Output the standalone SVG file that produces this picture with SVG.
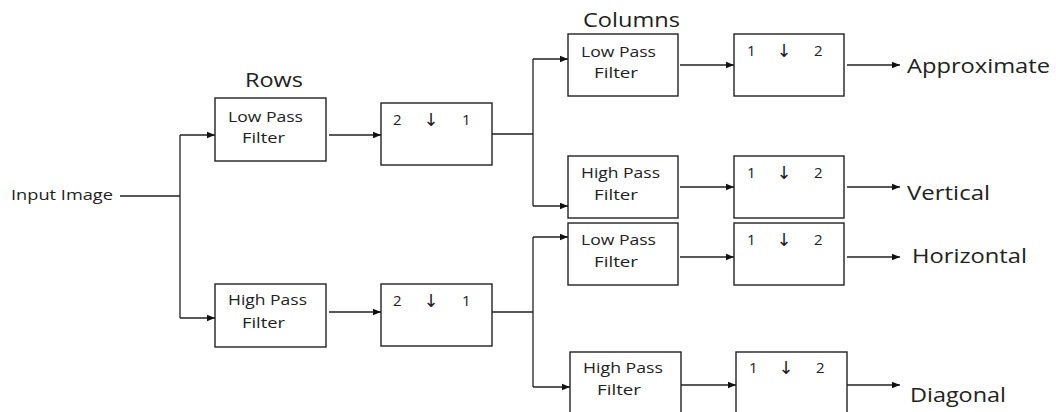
<svg xmlns="http://www.w3.org/2000/svg" width="1056" height="412" viewBox="0 0 1056 412">
<style>
.box{fill:#fff;stroke:#222;stroke-width:1.4}
.t{font-family:"Open Sans","Noto Sans",sans-serif;font-size:15px;fill:#222}
.big{font-family:"Open Sans","Noto Sans",sans-serif;font-size:20px;fill:#222}
.ar{font-family:"DejaVu Sans",sans-serif;font-size:18px;fill:#222}
.c{fill:none;stroke:#222;stroke-width:1.3}
</style>
<defs>
<marker id="ah" markerUnits="userSpaceOnUse" markerWidth="9" markerHeight="8" refX="8" refY="4" orient="auto">
<path d="M0,0.8 L8,4 L0,7.2 Z" fill="#111"/>
</marker>
</defs>
<rect width="1056" height="412" fill="#fff"/>
<text class="big" x="245" y="87" textLength="58" lengthAdjust="spacingAndGlyphs">Rows</text>
<text class="big" x="583" y="27" textLength="97" lengthAdjust="spacingAndGlyphs">Columns</text>
<g id="input"><text class="t" x="11" y="200" textLength="102" lengthAdjust="spacingAndGlyphs">Input Image</text></g>
<g id="rowLPF"><rect class="box" x="215" y="98" width="111" height="63"/>
<text class="t" x="228" y="122" textLength="75" lengthAdjust="spacingAndGlyphs">Low Pass</text>
<text class="t" x="242" y="143" textLength="43" lengthAdjust="spacingAndGlyphs">Filter</text></g>
<g id="rowHPF"><rect class="box" x="215" y="284" width="111" height="63"/>
<text class="t" x="228" y="305" textLength="79" lengthAdjust="spacingAndGlyphs">High Pass</text>
<text class="t" x="242" y="328" textLength="43" lengthAdjust="spacingAndGlyphs">Filter</text></g>
<g id="rowDS1"><rect class="box" x="381" y="103" width="111" height="62"/>
<text class="t" x="393" y="125">2</text><text class="ar" x="431" y="126" text-anchor="middle">↓︎</text><text class="t" x="462" y="125">1</text></g>
<g id="rowDS2"><rect class="box" x="381" y="284" width="111" height="62"/>
<text class="t" x="393" y="306">2</text><text class="ar" x="431" y="307" text-anchor="middle">↓︎</text><text class="t" x="462" y="306">1</text></g>
<g id="colLPF1"><rect class="box" x="568" y="34" width="110" height="62"/>
<text class="t" x="581" y="57" textLength="75" lengthAdjust="spacingAndGlyphs">Low Pass</text>
<text class="t" x="594" y="78" textLength="44" lengthAdjust="spacingAndGlyphs">Filter</text></g>
<g id="colHPF1"><rect class="box" x="568" y="156" width="110" height="62"/>
<text class="t" x="581" y="178" textLength="79" lengthAdjust="spacingAndGlyphs">High Pass</text>
<text class="t" x="594" y="200" textLength="44" lengthAdjust="spacingAndGlyphs">Filter</text></g>
<g id="colLPF2"><rect class="box" x="568" y="223" width="110" height="62"/>
<text class="t" x="581" y="245" textLength="75" lengthAdjust="spacingAndGlyphs">Low Pass</text>
<text class="t" x="594" y="267" textLength="44" lengthAdjust="spacingAndGlyphs">Filter</text></g>
<g id="colHPF2"><rect class="box" x="570" y="352" width="111" height="64"/>
<text class="t" x="583" y="373" textLength="80" lengthAdjust="spacingAndGlyphs">High Pass</text>
<text class="t" x="597" y="395" textLength="44" lengthAdjust="spacingAndGlyphs">Filter</text></g>
<g id="colDS1"><rect class="box" x="734" y="34" width="110" height="62"/>
<text class="t" x="747" y="56">1</text><text class="ar" x="784" y="57" text-anchor="middle">↓︎</text><text class="t" x="814" y="56">2</text></g>
<g id="colDS2"><rect class="box" x="734" y="156" width="110" height="62"/>
<text class="t" x="747" y="178">1</text><text class="ar" x="784" y="179" text-anchor="middle">↓︎</text><text class="t" x="814" y="178">2</text></g>
<g id="colDS3"><rect class="box" x="734" y="223" width="110" height="62"/>
<text class="t" x="747" y="245">1</text><text class="ar" x="784" y="246" text-anchor="middle">↓︎</text><text class="t" x="814" y="245">2</text></g>
<g id="colDS4"><rect class="box" x="736" y="352" width="111" height="64"/>
<text class="t" x="749" y="373">1</text><text class="ar" x="786" y="374" text-anchor="middle">↓︎</text><text class="t" x="816" y="373">2</text></g>
<g id="outA"><text class="big" x="907" y="73" textLength="143" lengthAdjust="spacingAndGlyphs">Approximate</text></g>
<g id="outV"><text class="big" x="907" y="200" textLength="83" lengthAdjust="spacingAndGlyphs">Vertical</text></g>
<g id="outH"><text class="big" x="912" y="263" textLength="115" lengthAdjust="spacingAndGlyphs">Horizontal</text></g>
<g id="outD"><text class="big" x="910" y="402" textLength="96" lengthAdjust="spacingAndGlyphs">Diagonal</text></g>
<g id="connectors">
<path class="c" d="M120,196 H180 M180,135 V318 M492,134 H533 M533,59 V206 M492,312 H533 M533,237 V387"/>
<path class="c" marker-end="url(#ah)" d="M180,135 H215"/>
<path class="c" marker-end="url(#ah)" d="M180,318 H215"/>
<path class="c" marker-end="url(#ah)" d="M329,135 H381"/>
<path class="c" marker-end="url(#ah)" d="M329,312 H381"/>
<path class="c" marker-end="url(#ah)" d="M533,59 H568"/>
<path class="c" marker-end="url(#ah)" d="M533,206 H568"/>
<path class="c" marker-end="url(#ah)" d="M533,237 H568"/>
<path class="c" marker-end="url(#ah)" d="M533,387 H570"/>
<path class="c" marker-end="url(#ah)" d="M680,65 H734"/>
<path class="c" marker-end="url(#ah)" d="M680,187 H734"/>
<path class="c" marker-end="url(#ah)" d="M680,257 H734"/>
<path class="c" marker-end="url(#ah)" d="M681,385 H736"/>
<path class="c" marker-end="url(#ah)" d="M847,65 H900"/>
<path class="c" marker-end="url(#ah)" d="M847,187 H900"/>
<path class="c" marker-end="url(#ah)" d="M847,257 H900"/>
<path class="c" marker-end="url(#ah)" d="M847,385 H900"/>
</g>
</svg>
